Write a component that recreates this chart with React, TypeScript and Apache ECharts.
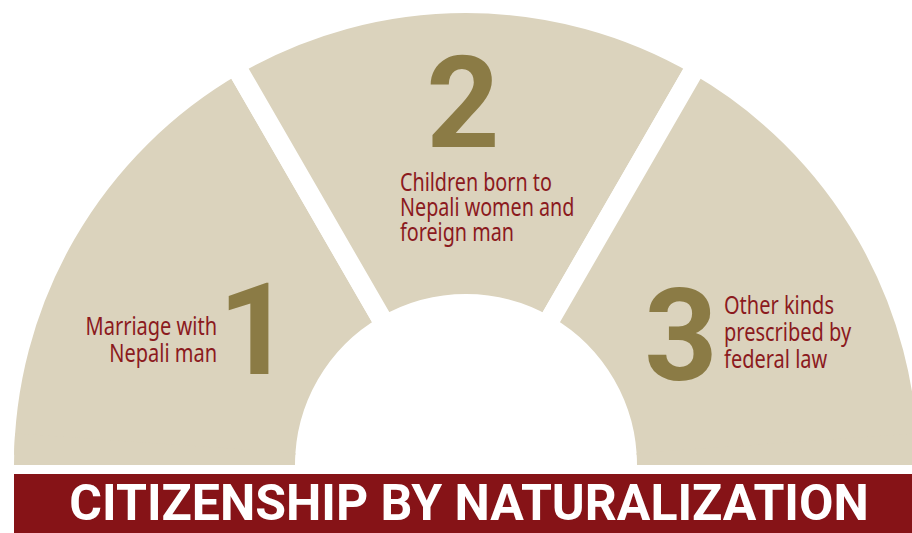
import React, { useEffect, useRef } from "react";
import * as echarts from "echarts";

const categories = [
  "Marriage with\nNepali man",
  "Children born to\nNepali women and\nforeign man",
  "Other kinds\nprescribed by\nfederal law",
];
const numbers = ["1", "2", "3"];
const shares = [1, 1, 1];
const title = "CITIZENSHIP BY NATURALIZATION";

const TAN = "#DBD3BD";
const OLIVE = "#8B7B45";
const RED = "#8B1A1E";
const BANNER = "#861317";

export default function App() {
  const ref = useRef<HTMLDivElement>(null);
  useEffect(() => {
    document.body.style.margin = "0";
    if (!ref.current) return;
    const chart = echarts.init(ref.current, null, { renderer: "svg" });
    const total = shares.reduce((a, b) => a + b, 0);
    const GAP = 20;
    const CX = 466;
    const CY = 465;
    const R_OUT = 452;
    const R_IN = 171;
    const mk = (
      t: string,
      x: number,
      y: number,
      size: number,
      weight: string,
      family: string,
      fill: string,
      align: string,
      lh: number,
      sx: number
    ) => ({
      type: "text",
      x,
      y,
      scaleX: sx,
      z: 100,
      silent: true,
      style: {
        text: t,
        fontSize: size,
        fontWeight: weight,
        fontFamily: family,
        fill,
        textAlign: align,
        align,
        textVerticalAlign: "middle",
        verticalAlign: "middle",
        lineHeight: lh,
      },
    });
    const sans = "Noto Sans, sans-serif";
    const digitFam = "Roboto, Liberation Sans, sans-serif";
    // filler keeps the straight bottom edge on the centre line (border would shrink it)
    const edge = 4;
    chart.setOption({
      animation: false,
      series: [
        {
          type: "pie",
          silent: true,
          startAngle: 180,
          clockwise: true,
          center: [CX, CY],
          radius: [R_IN - GAP / 2, R_OUT + GAP / 2],
          label: { show: false },
          labelLine: { show: false },
          emphasis: { disabled: true },
          itemStyle: { color: TAN, borderColor: "#ffffff", borderWidth: GAP },
          data: [
            ...shares.map((v, i) => ({ value: v, name: categories[i] })),
            { value: total, name: "", itemStyle: { color: "transparent", borderWidth: 0 } },
          ],
        },
        {
          type: "pie",
          silent: true,
          startAngle: 180,
          clockwise: true,
          center: [CX, CY],
          radius: [R_IN, R_OUT],
          label: { show: false },
          labelLine: { show: false },
          emphasis: { disabled: true },
          itemStyle: { color: TAN, borderWidth: 0 },
          data: [
            { value: edge, name: "a" },
            { value: 180 - 2 * edge, name: "b", itemStyle: { color: "transparent" } },
            { value: edge, name: "c" },
            { value: 180, name: "d", itemStyle: { color: "transparent" } },
          ],
        },
      ],
      graphic: [
        {
          type: "rect",
          z: 100,
          silent: true,
          shape: { x: 14, y: 474, width: 898, height: 59 },
          style: { fill: BANNER },
        },
        mk(title, 469, 503, 50, "bold", "Roboto, sans-serif", "#ffffff", "center", 50, 1),
        mk(numbers[0], 255, 330, 128, "bold", digitFam, OLIVE, "center", 128, 1),
        mk(numbers[1], 463, 103, 128, "bold", digitFam, OLIVE, "center", 128, 1),
        mk(numbers[2], 681, 336, 128, "bold", digitFam, OLIVE, "center", 128, 1),
        mk(categories[0], 217, 339.5, 25, "normal", sans, RED, "right", 27, 0.8),
        mk(categories[1], 400, 207, 25, "normal", sans, RED, "left", 25, 0.79),
        mk(categories[2], 724, 332, 25, "normal", sans, RED, "left", 27, 0.8),
      ],
    });
    return () => chart.dispose();
  }, []);
  return <div ref={ref} style={{ width: 912, height: 533 }} />;
}
